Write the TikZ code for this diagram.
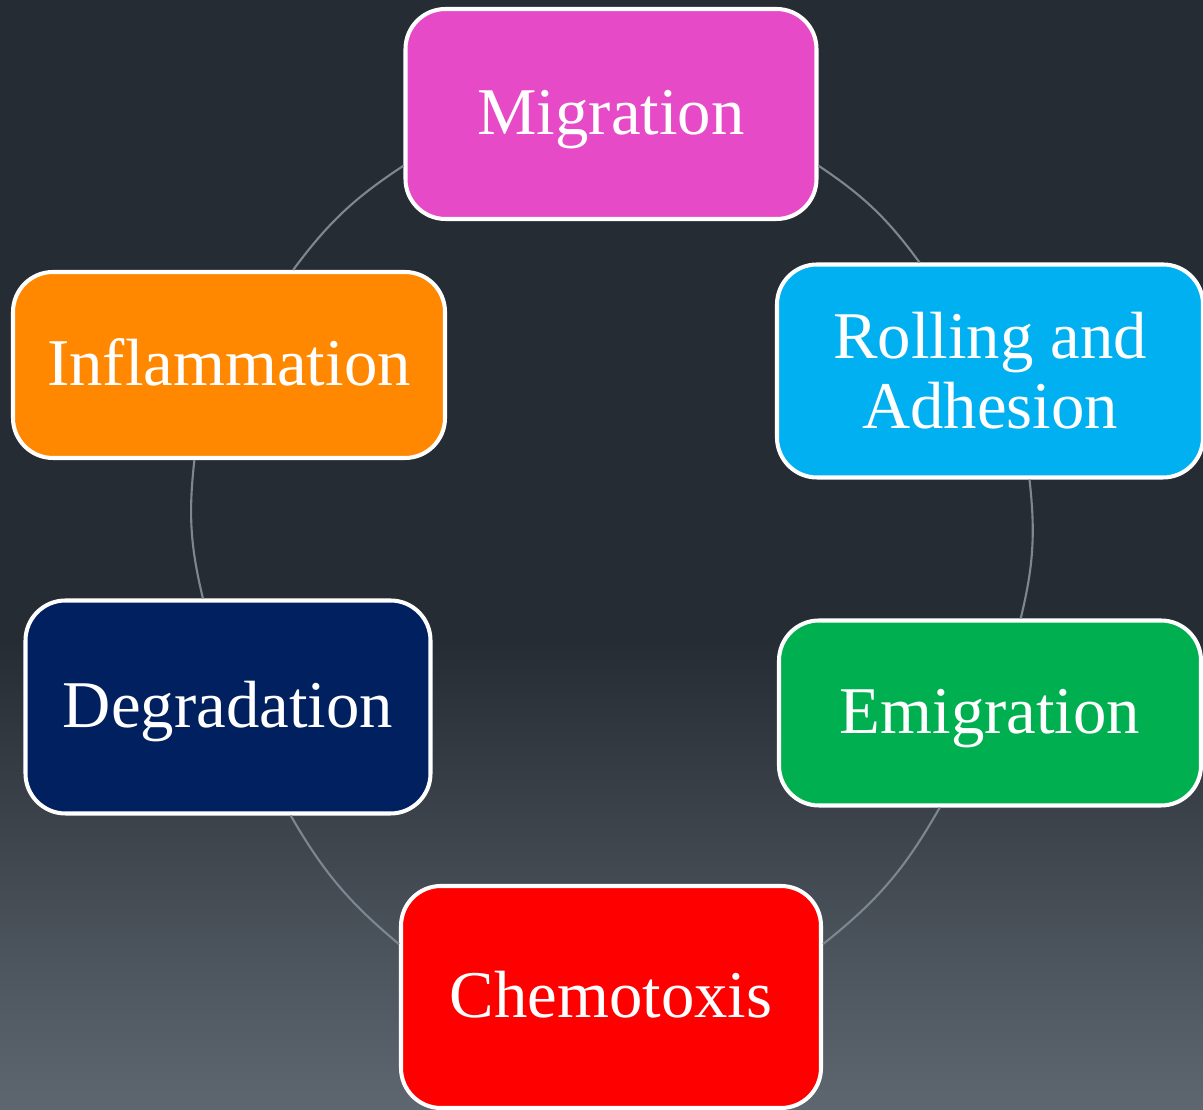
\documentclass[tikz,border=0pt]{standalone}
\usepackage{fontspec}
\setmainfont{Liberation Serif}
\usetikzlibrary{calc}

\definecolor{bgtop}{HTML}{262C34}
\definecolor{bgbot}{HTML}{5E6770}
\definecolor{linkgray}{HTML}{7D8790}
\definecolor{migcol}{HTML}{E64AC6}
\definecolor{rollcol}{HTML}{00B0F0}
\definecolor{emigcol}{HTML}{00AF50}
\definecolor{chemocol}{HTML}{FF0000}
\definecolor{degrcol}{HTML}{002060}
\definecolor{inflcol}{HTML}{FF8800}

\tikzset{
  stage/.style={draw=white, line width=2.3pt, rounded corners=0.8cm, text=white,
    align=center, font=\fontsize{38}{40}\selectfont, inner sep=0pt},
  oneline/.style={text height=32.7pt, text depth=9.1pt},
  link/.style={draw=linkgray, line width=1.2pt}
}

\begin{document}
\begin{tikzpicture}

% Background
\useasboundingbox (0,0) rectangle (24.06,22.2);
\fill[bgtop] (0,0) rectangle (24.06,22.2);
\shade[top color=bgtop, bottom color=bgbot] (0,0) rectangle (24.06,9.4);

% Define stage positions
\coordinate (P1) at (12.22,19.92);
\coordinate (P2) at (19.80,14.78);
\coordinate (P3) at (19.80,7.94);
\coordinate (P4) at (12.22,2.26);
\coordinate (P5) at (4.56,8.06);
\coordinate (P6) at (4.58,14.90);

% Stages
\node[stage, oneline, fill=migcol, minimum width=8.22cm, minimum height=4.20cm] (mig) at (P1) {Migration};
\node[stage, fill=rollcol, minimum width=8.52cm, minimum height=4.26cm] (roll) at (P2) {Rolling and\\Adhesion};
\node[stage, oneline, fill=emigcol, minimum width=8.44cm, minimum height=3.70cm] (emig) at (P3) {Emigration};
\node[stage, oneline, fill=chemocol, minimum width=8.40cm, minimum height=4.44cm] (chemo) at (P4) {Chemotoxis};
\node[stage, oneline, fill=degrcol, minimum width=8.10cm, minimum height=4.26cm] (degr) at (P5) {Degradation};
\node[stage, oneline, fill=inflcol, minimum width=8.64cm, minimum height=3.72cm] (infl) at (P6) {Inflammation};

% Cycle links
\draw[link] (mig.-14) to[bend left=10] (roll.123);
\draw[link] (roll.-70) to[bend left=10] (emig.72);
\draw[link] (emig.-118) to[bend left=11] (chemo.14);
\draw[link] (chemo.166) to[bend left=10] (degr.-60);
\draw[link] (degr.103) to[bend left=10] (infl.-110);
\draw[link] (infl.56) to[bend left=10] (mig.194);

\end{tikzpicture}
\end{document}
